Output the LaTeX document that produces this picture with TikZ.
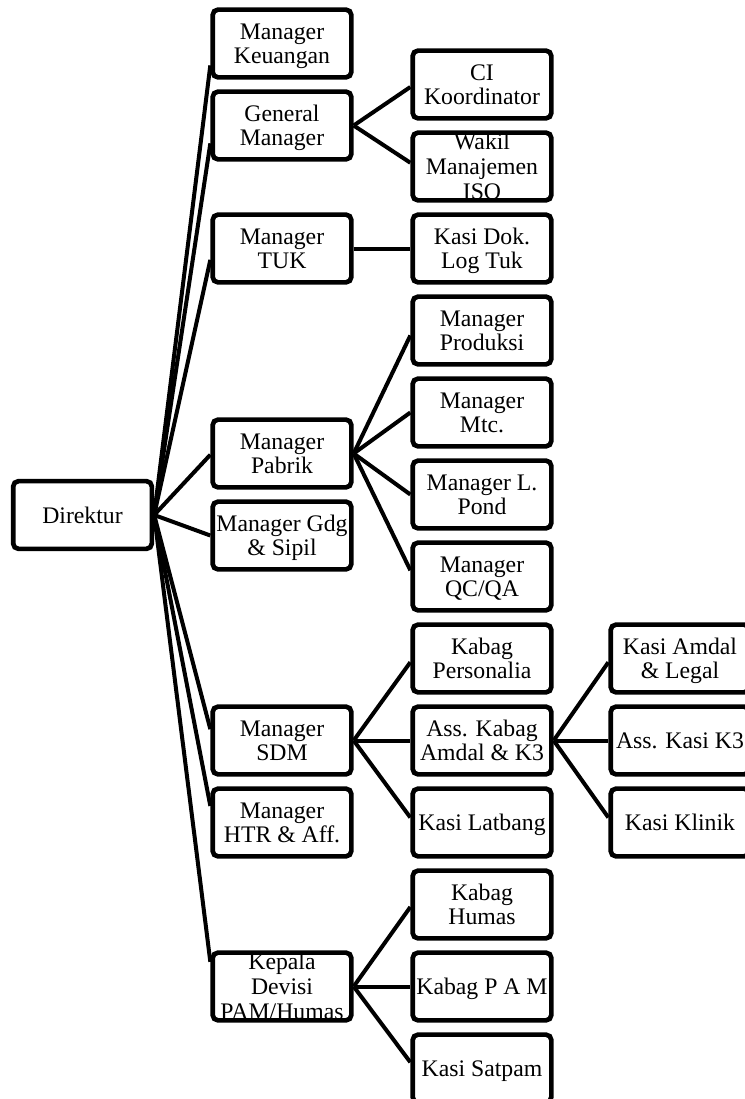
\documentclass[tikz,border=0pt]{standalone}
\usepackage{fontspec}
\setmainfont{Liberation Serif}
\newcommand\topstrut{\rule{0pt}{17pt}}
\newcommand\botstrut{\rule[-4.8pt]{0pt}{4.8pt}}
\tikzset{
  unit/.style={draw, line width=3.5pt, rounded corners=4pt,
    minimum width=104pt, minimum height=50.8pt, inner sep=0pt,
    text width=103pt, align=flush center,
    font=\fontsize{17.8pt}{18.5pt}\selectfont,
    execute at begin node=\topstrut, execute at end node=\botstrut},
  tight/.style={inner ysep=-4pt},
  link/.style={line width=3pt}
}

\begin{document}
\begin{tikzpicture}[x=0.75pt, y=-0.75pt]
\useasboundingbox (0,0) rectangle (744,1099);
\node[unit] (dir) at (82.5,515) {Direktur};
\node[unit] (keu) at (282,43.5) {Manager\\Keuangan};
\node[unit] (gm) at (282,125.5) {General\\Manager};
\node[unit] (tuk) at (282,248.5) {Manager\\TUK};
\node[unit] (pabrik) at (282,453.5) {Manager\\Pabrik};
\node[unit] (gdg) at (282,535.5) {Manager Gdg\\\& Sipil};
\node[unit] (sdm) at (282,740.5) {Manager\\SDM};
\node[unit] (htr) at (282,822.5) {Manager\\HTR \& Aff.};
\node[unit, tight] (kadiv) at (282,986.5) {Kepala\\Devisi\\PAM/Humas};
\node[unit] (ci) at (482,84.5) {CI\\Koordinator};
\node[unit, tight] (wakil) at (482,166.5) {Wakil\\Manajemen\\ISO};
\node[unit] (dok) at (482,248.5) {Kasi Dok.\\Log Tuk};
\node[unit] (prod) at (482,330.5) {Manager\\Produksi};
\node[unit] (mtc) at (482,412.5) {Manager\\Mtc.};
\node[unit] (pond) at (482,494.5) {Manager L.\\Pond};
\node[unit] (qc) at (482,576.5) {Manager\\QC/QA};
\node[unit] (pers) at (482,658.5) {Kabag\\Personalia};
\node[unit] (amdal) at (482,740.5) {Ass. Kabag\\Amdal \& K3};
\node[unit] (latbang) at (482,822.5) {Kasi Latbang};
\node[unit] (humas) at (482,904.5) {Kabag\\Humas};
\node[unit] (kpam) at (482,986.5) {Kabag P A M};
\node[unit] (satpam) at (482,1068.5) {Kasi Satpam};
\node[unit] (legal) at (680,658.5) {Kasi Amdal\\\& Legal};
\node[unit] (k3) at (680,740.5) {Ass. Kasi K3};
\node[unit] (klinik) at (680,822.5) {Kasi Klinik};
\draw[link] (dir.east) -- (keu.197);
\draw[link] (dir.east) -- (gm.194);
\draw[link] (dir.east) -- (tuk.189);
\draw[link] (dir.east) -- (pabrik.181);
\draw[link] (dir.east) -- (gdg.180);
\draw[link] (dir.east) -- (sdm.171);
\draw[link] (dir.east) -- (htr.167);
\draw[link] (dir.east) -- (kadiv.161);
\draw[link] (gm.east) -- (ci.182);
\draw[link] (gm.east) -- (wakil.177);
\draw[link] (tuk.east) -- (dok.west);
\draw[link] (pabrik.east) -- (prod.184);
\draw[link] (pabrik.east) -- (mtc.west);
\draw[link] (pabrik.east) -- (pond.west);
\draw[link] (pabrik.east) -- (qc.175);
\draw[link] (sdm.east) -- (pers.183);
\draw[link] (sdm.east) -- (amdal.west);
\draw[link] (sdm.east) -- (latbang.176);
\draw[link] (amdal.east) -- (legal.183);
\draw[link] (amdal.east) -- (k3.west);
\draw[link] (amdal.east) -- (klinik.176);
\draw[link] (kadiv.east) -- (humas.182);
\draw[link] (kadiv.east) -- (kpam.west);
\draw[link] (kadiv.east) -- (satpam.175);
\end{tikzpicture}
\end{document}
